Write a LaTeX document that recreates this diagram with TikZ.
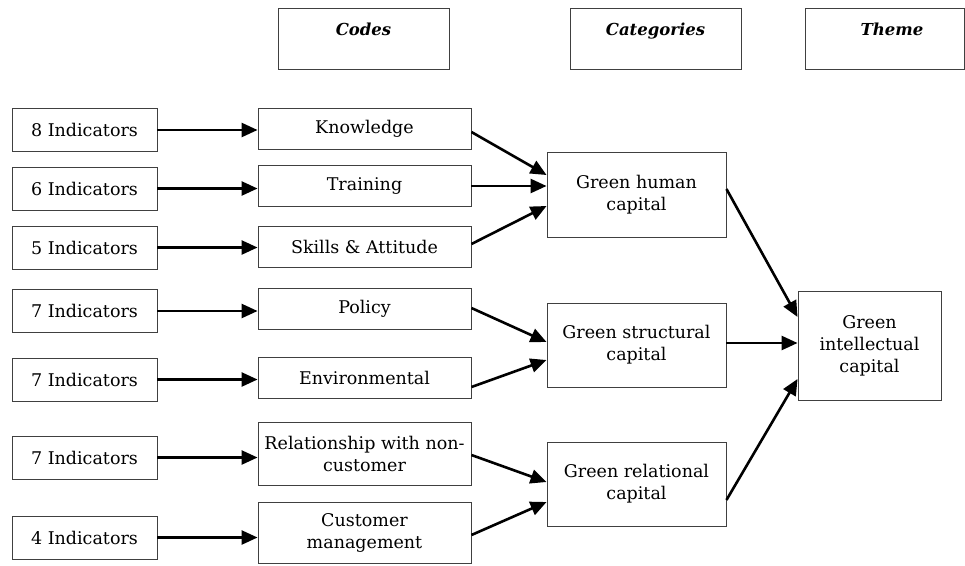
\documentclass[tikz,border=0pt]{standalone}
\usepackage{fontspec}
\setmainfont{DejaVu Serif}
\usetikzlibrary{arrows.meta}

\begin{document}
\begin{tikzpicture}[
		x=1pt, y=-1pt,
		font=\fontsize{17.5}{22}\selectfont,
		box/.style= {
				draw=black!75,
				line width=0.9pt,
				align=center,
				inner sep=0pt
			},
		indbox/.style= {box, minimum width=145pt, minimum height=43pt},
		codebox/.style= {box, minimum width=213pt, minimum height=41pt},
		catbox/.style= {box, minimum width=179pt, minimum height=84pt},
		headbox/.style= {box, minimum width=171pt, minimum height=61pt},
		headtext/.style= {
				anchor=base,
				font=\fontsize{16.5}{20}\selectfont\bfseries\itshape
			},
		myarrow/.style= {
				-{Triangle[length=16pt, width=14pt]},
				line width=2.6pt
			}
	]
	\useasboundingbox (0,0) rectangle (965,565);

	\node[headbox] (codes) at (363.5,38.5) {};
	\node[headbox] (cats) at (655.5,38.5) {};
	\node[headbox, minimum width=159pt] (theme) at (884.5,38.5) {};
	\node[headtext] (codestext) at (363.5,35.5) {Codes};
	\node[headtext] (catstext) at (655.5,35.5) {Categories};
	\node[headtext] (themetext) at (892,35.5) {Theme};

	\node[indbox] (i1) at (84.5,130) {8 Indicators};
	\node[indbox] (i2) at (84.5,188.5) {6 Indicators};
	\node[indbox] (i3) at (84.5,247.5) {5 Indicators};
	\node[indbox] (i4) at (84.5,311) {7 Indicators};
	\node[indbox] (i5) at (84.5,379.5) {7 Indicators};
	\node[indbox] (i6) at (84.5,457.5) {7 Indicators};
	\node[indbox] (i7) at (84.5,537.5) {4 Indicators};

	\node[codebox] (c1) at (364.5,128.5) {Knowledge};
	\node[codebox] (c2) at (364.5,186) {Training};
	\node[codebox] (c3) at (364.5,246.5) {Skills \& Attitude};
	\node[codebox] (c4) at (364.5,309) {Policy};
	\node[codebox] (c5) at (364.5,377.5) {Environmental};
	\node[codebox, minimum height=63pt] (c6) at (364.5,453.5) {Relationship with non-\\customer};
	\node[codebox, minimum height=61pt] (c7) at (364.5,532.5) {Customer\\management};

	\node[catbox, minimum height=85pt] (ghc) at (636.5,194.5) {Green human\\capital};
	\node[catbox] (gsc) at (636.5,345) {Green structural\\capital};
	\node[catbox] (grc) at (636.5,484) {Green relational\\capital};

	\node[box, minimum width=143pt, minimum height=109pt] (gic) at (869.5,345.5) {Green\\intellectual\\capital};

	\foreach \n in {1,...,7}
		\draw[myarrow] (i\n.east) -- (i\n.east -| c\n.west);

	\draw[myarrow] ([yshift=-3.5pt]c1.east) -- ([yshift=19.5pt]ghc.west);
	\draw[myarrow] (c2.east) -- (c2.east -| ghc.west);
	\draw[myarrow] ([yshift=2.5pt]c3.east) -- ([yshift=-11.5pt]ghc.west);
	\draw[myarrow] ([yshift=1pt]c4.east) -- ([yshift=3pt]gsc.west);
	\draw[myarrow] ([yshift=-9.5pt]c5.east) -- ([yshift=-15pt]gsc.west);
	\draw[myarrow] ([yshift=-1.5pt]c6.east) -- ([yshift=2pt]grc.west);
	\draw[myarrow] ([yshift=-2.5pt]c7.east) -- ([yshift=-18pt]grc.west);

	\draw[myarrow] ([yshift=5.5pt]ghc.east) -- ([yshift=28.5pt]gic.west);
	\draw[myarrow] ([yshift=2pt]gsc.east) -- ([yshift=2.5pt]gic.west);
	\draw[myarrow] ([yshift=-16pt]grc.east) -- ([yshift=-33.5pt]gic.west);
\end{tikzpicture}
\end{document}
